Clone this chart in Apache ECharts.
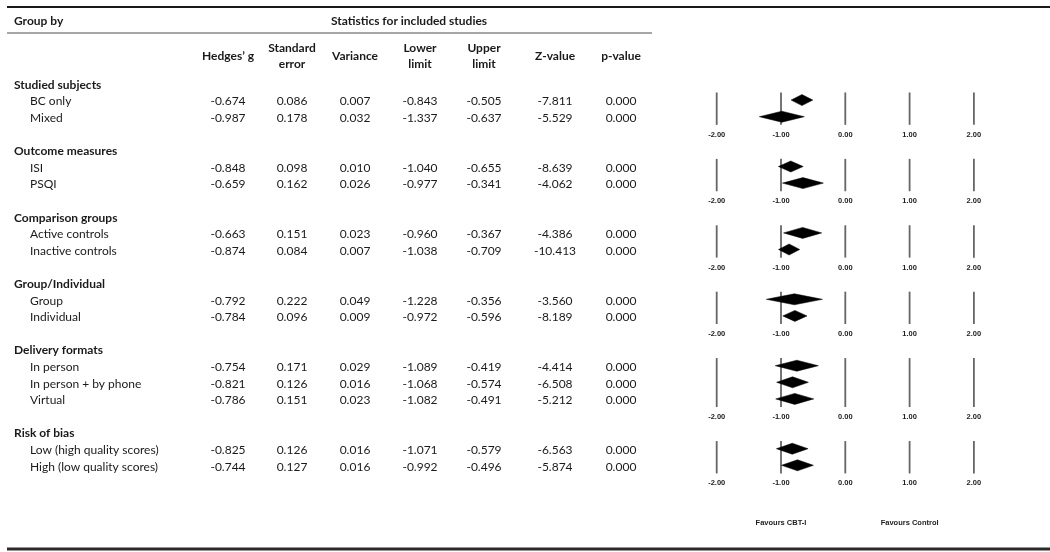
<!DOCTYPE html>
<html><head><meta charset="utf-8">
<script src="https://cdn.jsdelivr.net/npm/echarts@6/dist/echarts.min.js"></script>
<style>html,body{margin:0;padding:0;background:#fff}#c{width:1050px;height:552px}</style>
</head><body><div id="c"></div>
<script>
// ---------------- DATA ----------------
const groupNames = ['Studied subjects', 'Outcome measures', 'Comparison groups', 'Group/Individual', 'Delivery formats', 'Risk of bias'];
const subgroupNames = [
  ['BC only', 'Mixed'],
  ['ISI', 'PSQI'],
  ['Active controls', 'Inactive controls'],
  ['Group', 'Individual'],
  ['In person', 'In person + by phone', 'Virtual'],
  ['Low (high quality scores)', 'High (low quality scores)']
];
const hedgesG   = [-0.674, -0.987, -0.848, -0.659, -0.663, -0.874, -0.792, -0.784, -0.754, -0.821, -0.786, -0.825, -0.744];
const stdError  = [0.086, 0.178, 0.098, 0.162, 0.151, 0.084, 0.222, 0.096, 0.171, 0.126, 0.151, 0.126, 0.127];
const variance  = [0.007, 0.032, 0.010, 0.026, 0.023, 0.007, 0.049, 0.009, 0.029, 0.016, 0.023, 0.016, 0.016];
const lowerLimit = [-0.843, -1.337, -1.040, -0.977, -0.960, -1.038, -1.228, -0.972, -1.089, -1.068, -1.082, -1.071, -0.992];
const upperLimit = [-0.505, -0.637, -0.655, -0.341, -0.367, -0.709, -0.356, -0.596, -0.419, -0.574, -0.491, -0.579, -0.496];
const zValue    = [-7.811, -5.529, -8.639, -4.062, -4.386, -10.413, -3.560, -8.189, -4.414, -6.508, -5.212, -6.563, -5.874];
const pValue    = [0.000, 0.000, 0.000, 0.000, 0.000, 0.000, 0.000, 0.000, 0.000, 0.000, 0.000, 0.000, 0.000];
const columnHeaders = ['Hedges\u2019 g', 'Standard\nerror', 'Variance', 'Lower\nlimit', 'Upper\nlimit', 'Z-value', 'p-value'];
const titleLeft = 'Group by';
const titleRight = 'Statistics for included studies';
const axisTicks = [-2, -1, 0, 1, 2];
const tickLabels = ['-2.00', '-1.00', '0.00', '1.00', '2.00'];
const favourLabels = ['Favours CBT-I', 'Favours Control'];
const favourValues = [-1, 1];

// ---------------- LAYOUT ----------------
const ROW0 = 85, ROWH = 16.6, H = 552;
const rowOf = px => (px - ROW0) / ROWH;
const colCenters = [228, 292, 355, 420, 484, 555, 621];
const GROUP_X = 14, SUB_X = 30;
const TEXT = '#1a1a1a';
const TFONT = 'Lato, "Open Sans", sans-serif';
const SFONT = '"Liberation Sans", Arial, sans-serif';

// build row structure
const cells = [];      // table text
const diamonds = [];   // [g, ll, ul, row]
const vlines = [];     // [tick, rowStart, rowEnd]
const ticks = [];      // [tick, row]
const tickText = [];
let r = 0, k = 0;
groupNames.forEach((gname, gi) => {
  cells.push({x: GROUP_X, row: r, text: gname, bold: true, align: 'left'});
  const first = r + 1;
  subgroupNames[gi].forEach((s, si) => {
    const row = r + 1 + si;
    cells.push({x: SUB_X, row, text: s, bold: false, align: 'left'});
    const vals = [hedgesG[k], stdError[k], variance[k], lowerLimit[k], upperLimit[k], zValue[k], pValue[k]];
    vals.forEach((v, ci) => cells.push({x: colCenters[ci], row, text: v.toFixed(3), bold: false, align: 'center'}));
    diamonds.push([hedgesG[k], lowerLimit[k], upperLimit[k], row]);
    k++;
  });
  const last = r + subgroupNames[gi].length;
  const axisRow = last + 1;
  axisTicks.forEach((t, ti) => {
    vlines.push([t, first - 0.55, last + 0.4]);
    ticks.push([t, axisRow]);
    tickText.push(tickLabels[ti]);
  });
  r = axisRow + 1;
});
const favourRow = r + 1.4;
// headers
cells.push({x: GROUP_X, row: rowOf(21), text: titleLeft, bold: true, align: 'left'});
cells.push({x: 409, row: rowOf(21), text: titleRight, bold: true, align: 'center'});
columnHeaders.forEach((h, ci) => cells.push({x: colCenters[ci], row: rowOf(56), text: h, bold: true, align: 'center'}));

const chart = echarts.init(document.getElementById('c'), null, {renderer: 'canvas'});
const yRange = {min: rowOf(0), max: rowOf(H)};
const fxLeft = 716.7, fxUnit = 64.3;

chart.setOption({
  animation: false,
  backgroundColor: '#fff',
  grid: [
    {left: 0, top: 0, width: 660, bottom: 0},
    {left: fxLeft, top: 0, width: fxUnit * 4, bottom: 0}
  ],
  xAxis: [
    {gridIndex: 0, type: 'value', min: 0, max: 660, show: false},
    {gridIndex: 1, type: 'value', min: -2, max: 2, show: false}
  ],
  yAxis: [
    {gridIndex: 0, type: 'value', inverse: true, min: yRange.min, max: yRange.max, show: false},
    {gridIndex: 1, type: 'value', inverse: true, min: yRange.min, max: yRange.max, show: false}
  ],
  graphic: [
    {type: 'line', shape: {x1: 7, y1: 7, x2: 1050, y2: 7}, style: {stroke: '#1a1a1a', lineWidth: 2}},
    {type: 'line', shape: {x1: 7, y1: 33, x2: 652, y2: 33}, style: {stroke: '#8a8a8a', lineWidth: 1.5}},
    {type: 'line', shape: {x1: 7, y1: 549, x2: 1050, y2: 549}, style: {stroke: '#2a2a2a', lineWidth: 3}}
  ],
  series: [
    {
      type: 'custom', xAxisIndex: 0, yAxisIndex: 0, silent: true,
      data: cells.map(c => [c.x, c.row]),
      renderItem: (params, api) => {
        const c = cells[params.dataIndex];
        const p = api.coord([api.value(0), api.value(1)]);
        return {type: 'text', x: p[0], y: p[1], style: {
          text: c.text, fill: TEXT, fontFamily: TFONT, fontSize: 12, fontWeight: c.bold ? 'bold' : 'normal',
          align: c.align, verticalAlign: 'middle', textAlign: c.align, textVerticalAlign: 'middle', lineHeight: 16
        }};
      }
    },
    {
      type: 'custom', xAxisIndex: 1, yAxisIndex: 1, silent: true,
      data: vlines,
      renderItem: (params, api) => {
        const a = api.coord([api.value(0), api.value(1)]);
        const b = api.coord([api.value(0), api.value(2)]);
        return {type: 'line', shape: {x1: a[0], y1: a[1], x2: b[0], y2: b[1]}, style: {stroke: '#666', lineWidth: 1.8}};
      }
    },
    {
      type: 'custom', xAxisIndex: 1, yAxisIndex: 1, silent: true,
      data: ticks,
      renderItem: (params, api) => {
        const p = api.coord([api.value(0), api.value(1)]);
        return {type: 'text', x: p[0], y: p[1], style: {
          text: tickText[params.dataIndex], fill: '#222', fontFamily: SFONT,
          fontSize: 7.5, fontWeight: 'bold', align: 'center', verticalAlign: 'middle', textAlign: 'center', textVerticalAlign: 'middle'
        }};
      }
    },
    {
      type: 'custom', xAxisIndex: 1, yAxisIndex: 1, silent: true,
      data: diamonds,
      renderItem: (params, api) => {
        const row = api.value(3) - 0.09;
        const g = api.coord([api.value(0), row]);
        const l = api.coord([api.value(1), row]);
        const u = api.coord([api.value(2), row]);
        const h = 5.5;
        return {type: 'polygon', shape: {points: [[l[0], l[1]], [g[0], g[1] - h], [u[0], u[1]], [g[0], g[1] + h]]},
          style: {fill: '#000', stroke: '#000', lineWidth: 0.5}};
      }
    },
    {
      type: 'custom', xAxisIndex: 1, yAxisIndex: 1, silent: true,
      data: favourValues.map(v => [v, favourRow]),
      renderItem: (params, api) => {
        const p = api.coord([api.value(0), api.value(1)]);
        return {type: 'text', x: p[0], y: p[1], style: {
          text: favourLabels[params.dataIndex], fill: '#222', fontFamily: SFONT,
          fontSize: 7.5, fontWeight: 'bold', align: 'center', verticalAlign: 'middle', textAlign: 'center', textVerticalAlign: 'middle'
        }};
      }
    }
  ]
});
</script></body></html>
